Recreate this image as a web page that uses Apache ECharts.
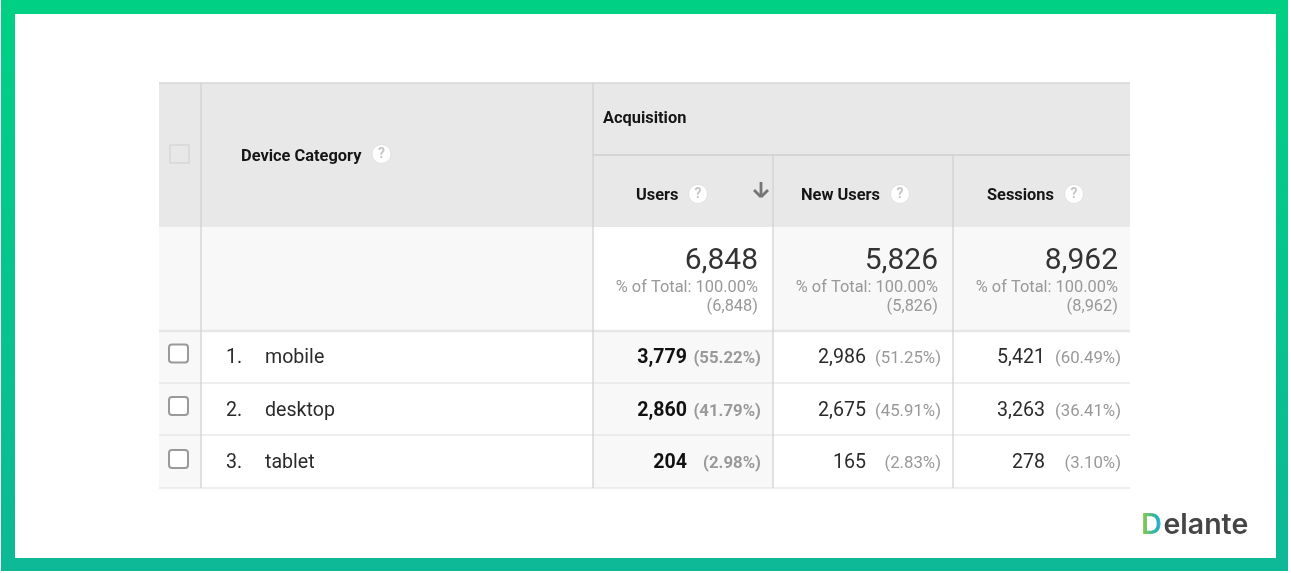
<!DOCTYPE html>
<html>
<head>
<meta charset="utf-8">
<style>
    html, body { margin: 0; padding: 0; background: #fff; }
    #chart { width: 1291px; height: 573px; }
</style>
<script src="https://cdn.jsdelivr.net/npm/echarts@6/dist/echarts.min.js"></script>
</head>
<body>
<div id="chart"></div>
<script>
    // table values
    var categories = ['mobile', 'desktop', 'tablet'];
    var columnNames = ['Users', 'New Users', 'Sessions'];
    var totals = [6848, 5826, 8962];
    var users = [3779, 2860, 204];
    var usersPct = [55.22, 41.79, 2.98];
    var newUsers = [2986, 2675, 165];
    var newUsersPct = [51.25, 45.91, 2.83];
    var sessions = [5421, 3263, 278];
    var sessionsPct = [60.49, 36.41, 3.10];

    var values = [users, newUsers, sessions];
    var pcts = [usersPct, newUsersPct, sessionsPct];

    // table layout, in the pixels of the hidden axes
    var colX = [159, 201, 593, 773, 953, 1130];
    var rowY = [83, 155, 227, 331, 383, 435, 488];
    var FONT = 'Roboto, sans-serif';

    function fmt(n) {
        return n.toLocaleString('en-US');
    }

    var rects = [], lines = [], texts = [], helps = [], boxes = [];

    function addText(x, y, s, size, color, weight, align) {
        texts.push([x, y, s, size, color, weight, align]);
    }

    // fills
    rects.push([colX[0], rowY[0], colX[5], rowY[2], '#e8e8e8']);
    rects.push([colX[0], rowY[2], colX[2], rowY[3], '#f8f8f8']);
    rects.push([colX[3], rowY[2], colX[5], rowY[3], '#f8f8f8']);
    rects.push([colX[0], rowY[3], colX[1], rowY[6], '#f8f8f8']);
    rects.push([colX[2], rowY[3], colX[3], rowY[6], '#f8f8f8']);

    // rules
    lines.push([colX[0], rowY[0], colX[5], rowY[0], '#d6d6d6', 1.3]);
    lines.push([colX[2], rowY[1], colX[5], rowY[1], '#cfcfcf', 1.3]);
    lines.push([colX[0], rowY[3], colX[5], rowY[3], '#e6e6e6', 2.5]);
    lines.push([colX[0], rowY[4], colX[5], rowY[4], '#e8e8e8', 1.3]);
    lines.push([colX[0], rowY[5], colX[5], rowY[5], '#e8e8e8', 1.3]);
    lines.push([colX[0], rowY[6], colX[5], rowY[6], '#e8e8e8', 1.3]);
    lines.push([colX[1], rowY[0], colX[1], rowY[6], '#cfcfcf', 1.2]);
    lines.push([colX[2], rowY[0], colX[2], rowY[6], '#cfcfcf', 1.2]);
    lines.push([colX[3], rowY[1], colX[3], rowY[6], '#cfcfcf', 1.2]);
    lines.push([colX[4], rowY[1], colX[4], rowY[6], '#cfcfcf', 1.2]);

    // sort arrow
    lines.push([761, 182, 761, 197, '#757575', 2.8]);
    lines.push([754, 190, 761, 197, '#757575', 2.8]);
    lines.push([768, 190, 761, 197, '#757575', 2.8]);

    // header
    addText(241, 156.5, 'Device Category', 16.4, '#151515', 'bold', 'left');
    addText(603, 119, 'Acquisition', 16.4, '#151515', 'bold', 'left');
    helps.push([381.5, 154]);
    var headX = [636, 801, 987];
    var helpX = [698, 900, 1074];
    columnNames.forEach(function (name, c) {
        addText(headX[c], 195.5, name, 16.4, '#151515', 'bold', 'left');
        helps.push([helpX[c], 194]);
    });

    // header checkbox
    boxes.push([170, 145, 19, 18, '#e8e8e8', '#d6d6d6', 1.5, 0]);

    // totals row
    var totalRight = [758, 938, 1118];
    totals.forEach(function (total, c) {
        addText(totalRight[c], 261, fmt(total), 30, '#333', 'normal', 'right');
        addText(totalRight[c], 288, '% of Total: 100.00%', 16.4, '#999', 'normal', 'right');
        addText(totalRight[c], 307, '(' + fmt(total) + ')', 16.4, '#999', 'normal', 'right');
    });

    // data rows
    var rowText = [358, 411.5, 463.5];
    var boxTop = [344.5, 397, 450];
    var numRight = [687, 866, 1045];
    var pctRight = [761, 941, 1121];
    categories.forEach(function (name, r) {
        boxes.push([169, boxTop[r], 19, 18, '#fff', '#9a9a9a', 2, 3]);
        addText(226, rowText[r], (r + 1) + '.', 19.6, '#2a2a2a', 'normal', 'left');
        addText(265, rowText[r], name, 19.6, '#2a2a2a', 'normal', 'left');
        values.forEach(function (col, c) {
            var w = c === 0 ? 'bold' : 'normal';
            addText(numRight[c], rowText[r], fmt(col[r]), 19.6, c === 0 ? '#111' : '#2a2a2a', w, 'right');
            addText(pctRight[c], rowText[r] + 0.5, '(' + pcts[c][r].toFixed(2) + '%)', 16.8, '#999', w, 'right');
        });
    });

    function customSeries(data, draw) {
        return {
            type: 'custom',
            coordinateSystem: 'cartesian2d',
            silent: true,
            clip: false,
            data: data.map(function (d, i) { return [d[0], d[1], i]; }),
            renderItem: function (params, api) {
                return draw(data[api.value(2)], api);
            }
        };
    }

    var chart = echarts.init(document.getElementById('chart'), null, { renderer: 'canvas' });

    chart.setOption({
        animation: false,
        grid: { left: 0, right: 0, top: 0, bottom: 0 },
        xAxis: { type: 'value', min: 0, max: 1291, show: false },
        yAxis: { type: 'value', min: 0, max: 573, inverse: true, show: false },
        graphic: [
            {
                type: 'rect', z: -10,
                shape: { x: 1, y: 0, width: 1287, height: 571 },
                style: {
                    fill: new echarts.graphic.LinearGradient(0, 0, 0, 1, [
                        { offset: 0, color: '#00d084' },
                        { offset: 1, color: '#0db896' }
                    ])
                }
            },
            { type: 'rect', z: -9, shape: { x: 15, y: 14, width: 1261, height: 544 }, style: { fill: '#fff' } },
            { type: 'text', z: 20, style: { x: 1163.5, y: 525, text: 'elante', font: '600 28.5px Inter, sans-serif', fill: '#454545', textVerticalAlign: 'middle' } }
        ],
        series: [
            customSeries(rects, function (d, api) {
                var a = api.coord([d[0], d[1]]), b = api.coord([d[2], d[3]]);
                return { type: 'rect', shape: { x: a[0], y: a[1], width: b[0] - a[0], height: b[1] - a[1] }, style: { fill: d[4] } };
            }),
            customSeries(lines, function (d, api) {
                var a = api.coord([d[0], d[1]]), b = api.coord([d[2], d[3]]);
                return { type: 'line', z2: 2, shape: { x1: a[0], y1: a[1], x2: b[0], y2: b[1] }, style: { stroke: d[4], lineWidth: d[5] } };
            }),
            customSeries(boxes, function (d, api) {
                var a = api.coord([d[0], d[1]]);
                return { type: 'rect', z2: 3, shape: { x: a[0], y: a[1], width: d[2], height: d[3], r: d[7] }, style: { fill: d[4], stroke: d[5], lineWidth: d[6] } };
            }),
            customSeries(helps, function (d, api) {
                var a = api.coord([d[0], d[1]]);
                return {
                    type: 'group', z2: 3,
                    children: [
                        { type: 'circle', shape: { cx: a[0], cy: a[1], r: 9.5 }, style: { fill: '#fff', stroke: '#e2e2e2', lineWidth: 1 } },
                        { type: 'text', style: { x: a[0], y: a[1] + 0.5, text: '?', font: 'bold 14px ' + FONT, fill: '#c6c6c6', align: 'center', verticalAlign: 'middle' } }
                    ]
                };
            }),
            customSeries(texts, function (d, api) {
                var a = api.coord([d[0], d[1]]);
                return {
                    type: 'text', z2: 4,
                    style: { x: a[0], y: a[1], text: d[2], font: d[5] + ' ' + d[3] + 'px ' + FONT, fill: d[4], align: d[6], verticalAlign: 'middle' }
                };
            })
        ]
    });

    // the logo D fades green to blue: text can't take a gradient here, so draw it in clipped bands
    var logoBands = ['#8acb50', '#6cc466', '#4fbe80', '#3ab79b', '#28b0bd', '#18a8de'];
    var bandW = 22 / logoBands.length;
    logoBands.forEach(function (color, i) {
        var g = new echarts.graphic.Group();
        g.add(new echarts.graphic.Text({
            z: 20,
            style: { x: 1141, y: 525, text: 'D', font: '600 29px Inter, sans-serif', fill: color, verticalAlign: 'middle' }
        }));
        g.setClipPath(new echarts.graphic.Rect({ shape: { x: 1141 + i * bandW, y: 505, width: bandW + 0.3, height: 40 } }));
        chart.getZr().add(g);
    });
</script>
</body>
</html>
